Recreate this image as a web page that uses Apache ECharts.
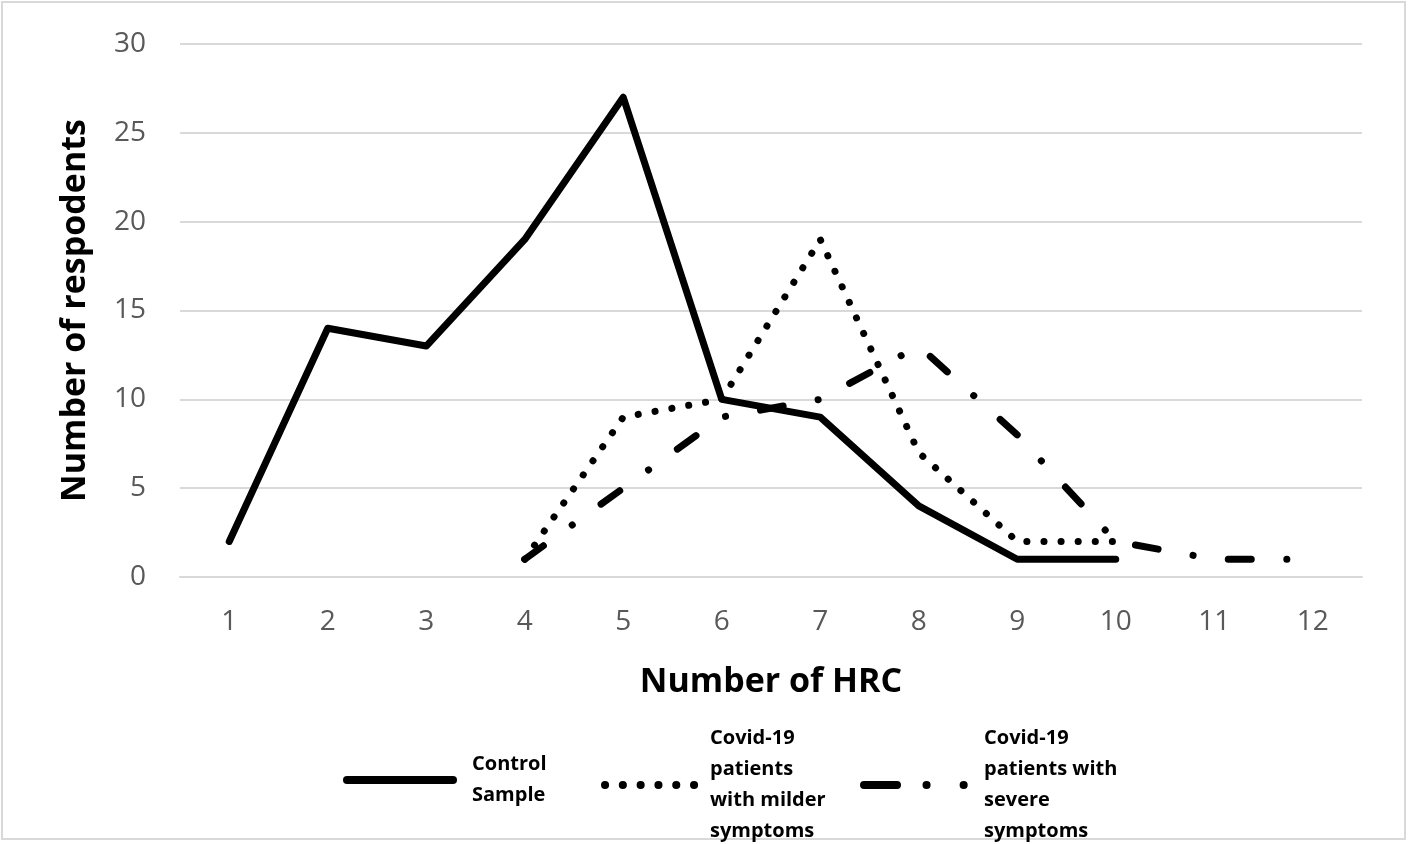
<!DOCTYPE html>
<html>
<head>
<meta charset="utf-8">
<script src="https://cdn.jsdelivr.net/npm/echarts@6/dist/echarts.min.js"></script>
<style>
html,body{margin:0;padding:0;background:#fff;}
#chart{width:1408px;height:844px;}
</style>
</head>
<body>
<div id="chart"></div>
<script>
const categories = ['1','2','3','4','5','6','7','8','9','10','11','12'];
const controlSample = [2, 14, 13, 19, 27, 10, 9, 4, 1, 1, null, null];
const milderSymptoms = [null, null, null, 1, 9, 10, 19, 7, 2, 2, null, null];
const severeSymptoms = [null, null, null, 1, 5, 9, 10, 13, 8, 2, 1, 1];
const seriesNames = ['Control\nSample', 'Covid-19\npatients\nwith milder\nsymptoms', 'Covid-19\npatients with\nsevere\nsymptoms'];

const FONT = '"Open Sans", "Noto Sans", sans-serif';
const chart = echarts.init(document.getElementById('chart'));
const mkLegend = (name, left, top, width, pad, lineType) => ({
  data: [name], left: left, top: top, orient: 'horizontal',
  itemWidth: width, itemHeight: 14, padding: 0,
  itemStyle: {opacity: 0},
  lineStyle: {width: 8, type: lineType, cap: 'round', color: '#000'},
  textStyle: {fontFamily: FONT, fontSize: 20, fontWeight: 'bold', color: '#000', lineHeight: 31, padding: [0, 0, 0, pad]}
});

chart.setOption({
  animation: false,
  backgroundColor: '#fff',
  graphic: [{
    type: 'rect', shape: {x: 2, y: 2, width: 1403, height: 837},
    style: {fill: 'none', stroke: '#d9d9d9', lineWidth: 2}, silent: true
  }],
  grid: {left: 180, right: 46, top: 44, bottom: 267, containLabel: false},
  xAxis: {
    type: 'category', data: categories, boundaryGap: true,
    name: 'Number of HRC', nameLocation: 'middle', nameGap: 88,
    nameTextStyle: {fontFamily: FONT, fontSize: 34, fontWeight: 'bold', color: '#000'},
    axisLine: {show: true, lineStyle: {color: '#d9d9d9', width: 2}},
    axisTick: {show: false},
    axisLabel: {fontFamily: FONT, fontSize: 28, color: '#595959', margin: 31}
  },
  yAxis: {
    type: 'value', min: 0, max: 30, interval: 5,
    name: 'Number of respodents', nameLocation: 'middle', nameGap: 88, nameRotate: 90,
    nameTextStyle: {fontFamily: FONT, fontSize: 34, fontWeight: 'bold', color: '#000'},
    axisLine: {show: false}, axisTick: {show: false},
    splitLine: {lineStyle: {color: '#d9d9d9', width: 2}},
    axisLabel: {fontFamily: FONT, fontSize: 28, color: '#595959', margin: 34}
  },
  legend: [
    mkLegend(seriesNames[0], 343, 749, 106, 14, 'solid'),
    mkLegend(seriesNames[1], 601, 723, 95, 5, [0.1, 17.7]),
    mkLegend(seriesNames[2], 860, 723, 109, 6, [33, 29.5, 0.1, 37, 0.1, 40])
  ],
  series: [
    {name: seriesNames[0], type: 'line', data: controlSample, symbol: 'none',
     lineStyle: {color: '#000', width: 7, type: 'solid', cap: 'round', join: 'round'}, itemStyle: {color: '#000'}},
    {name: seriesNames[1], type: 'line', data: milderSymptoms, symbol: 'none',
     lineStyle: {color: '#000', width: 7, type: [0.1, 17], cap: 'round', join: 'round'}, itemStyle: {color: '#000'}},
    {name: seriesNames[2], type: 'line', data: severeSymptoms, symbol: 'none',
     lineStyle: {color: '#000', width: 7, type: [23, 35.5, 0.1, 35.5], cap: 'round', join: 'round'}, itemStyle: {color: '#000'}}
  ]
});
</script>
</body>
</html>
